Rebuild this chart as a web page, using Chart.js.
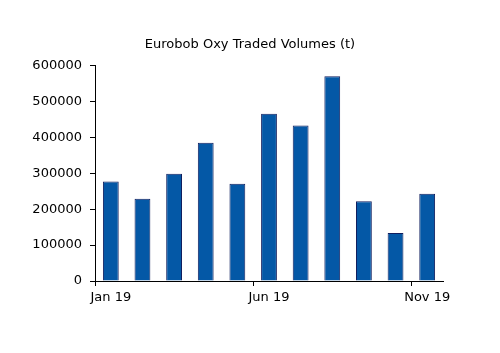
<!DOCTYPE html>
<html>
<head>
<meta charset="utf-8">
<script src="https://cdn.jsdelivr.net/npm/chart.js@4"></script>
<style>
  html, body { margin: 0; padding: 0; background: #fff; }
  #wrap { width: 500px; height: 353px; }
</style>
</head>
<body>
<div id="wrap"><canvas id="myChart"></canvas></div>
<script>
// monthly traded volumes, tonnes
const months = ["Jan 19", "Feb 19", "Mar 19", "Apr 19", "May 19", "Jun 19",
                "Jul 19", "Aug 19", "Sep 19", "Oct 19", "Nov 19"];
const volumes = [277000, 229000, 299000, 385000, 271000, 466000,
                 433000, 570000, 222000, 134000, 243000];
const shownLabels = ["Jan 19", "Jun 19", "Nov 19"];
const yTicks = [0, 100000, 200000, 300000, 400000, 500000, 600000];

const font = { family: "DejaVu Sans", size: 13, weight: "normal" };
Chart.defaults.color = "#000";

const ctx = document.getElementById("myChart").getContext("2d");

new Chart(ctx, {
  type: "bar",
  data: {
    labels: months,
    datasets: [{
      label: "Volume",
      data: volumes,
      backgroundColor: "#0458a6",
      borderColor: "#101e5e",
      borderWidth: 1,
      barPercentage: 0.5,
      categoryPercentage: 1.0,
    }],
  },
  options: {
    responsive: true,
    maintainAspectRatio: false,
    animation: false,
    layout: { padding: { left: 0, right: 0, top: 0, bottom: 42 } },
    plugins: {
      legend: { display: false },
      tooltip: { enabled: false },
      title: {
        display: true,
        text: "Eurobob Oxy Traded Volumes (t)",
        font: font,
        color: "#000",
        padding: { top: 37, bottom: 13 },
      },
    },
    scales: {
      x: {
        offset: true,
        border: { color: "#000", width: 1 },
        grid: {
          offset: true,
          drawOnChartArea: false,
          tickLength: 5,
          // only mark the labelled months
          color: (c) => (shownLabels.includes(months[c.index]) ? "#000" : "rgba(0,0,0,0)"),
        },
        ticks: {
          font: font,
          autoSkip: false,
          maxRotation: 0,
          padding: 4,
          callback: function (v, i) {
            return shownLabels.includes(months[i]) ? months[i] : "";
          },
        },
        afterFit: (s) => { s.height = 30; },
      },
      y: {
        min: 0,
        max: 600000,
        border: { color: "#000", width: 1 },
        grid: { drawOnChartArea: false, tickLength: 5, color: "#000" },
        afterBuildTicks: (s) => { s.ticks = yTicks.map((v) => ({ value: v })); },
        ticks: {
          font: font,
          padding: 8,
          callback: (v) => String(v),
        },
        afterFit: (s) => { s.width = 95; },
      },
      // empty right-hand space so the title stays centred on the page
      spacer: {
        type: "linear",
        position: "right",
        display: true,
        grid: { display: false },
        border: { display: false },
        ticks: { display: false },
        afterFit: (s) => { s.width = 57; },
      },
    },
  },
});
</script>
</body>
</html>
